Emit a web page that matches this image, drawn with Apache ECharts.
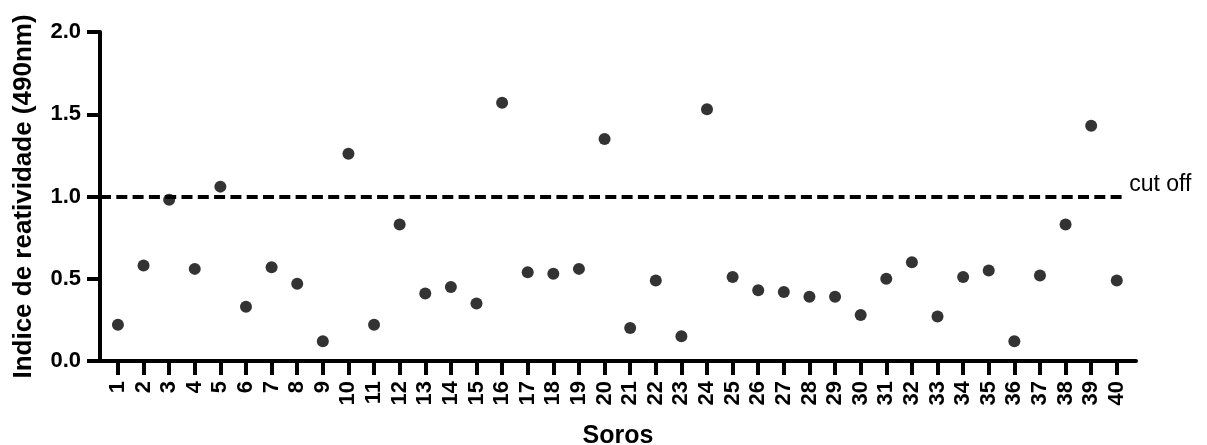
<!DOCTYPE html>
<html>
<head>
<meta charset="utf-8">
<script src="https://cdn.jsdelivr.net/npm/echarts@6/dist/echarts.min.js"></script>
<style>
  html, body { margin: 0; padding: 0; background: #fff; }
  #chart { width: 1207px; height: 445px; }
</style>
</head>
<body>
<div id="chart"></div>
<script>
const soros = [1, 2, 3, 4, 5, 6, 7, 8, 9, 10, 11, 12, 13, 14, 15, 16, 17, 18, 19, 20,
  21, 22, 23, 24, 25, 26, 27, 28, 29, 30, 31, 32, 33, 34, 35, 36, 37, 38, 39, 40];
const indice = [0.22, 0.58, 0.98, 0.56, 1.06, 0.33, 0.57, 0.47, 0.12, 1.26,
  0.22, 0.83, 0.41, 0.45, 0.35, 1.57, 0.54, 0.53, 0.56, 1.35,
  0.20, 0.49, 0.15, 1.53, 0.51, 0.43, 0.42, 0.39, 0.39, 0.28,
  0.50, 0.60, 0.27, 0.51, 0.55, 0.12, 0.52, 0.83, 1.43, 0.49];
const yTicks = [0, 0.5, 1.0, 1.5, 2.0];
const cutOff = 1.0;
const cutOffLabel = 'cut off';

const font = 'Liberation Sans, Arial, sans-serif';
const chart = echarts.init(document.getElementById('chart'), null, { renderer: 'canvas' });

const option = {
  animation: false,
  backgroundColor: '#fff',
  grid: { left: 100, right: 71, top: 32, bottom: 84, containLabel: false, outerBoundsMode: 'none' },
  xAxis: {
    type: 'value',
    min: 0.3,
    max: 40.75,
    name: 'Soros',
    nameLocation: 'middle',
    nameGap: 63,
    nameTextStyle: { fontFamily: font, fontWeight: 'bold', fontSize: 25, color: '#000' },
    axisLine: { lineStyle: { color: '#000', width: 4 } },
    axisTick: { customValues: soros, length: 14, lineStyle: { color: '#000', width: 4 } },
    axisLabel: {
      customValues: soros,
      rotate: 90,
      margin: 20,
      fontFamily: font,
      fontWeight: 'bold',
      fontSize: 22,
      color: '#000'
    },
    splitLine: { show: false }
  },
  yAxis: {
    type: 'value',
    min: yTicks[0],
    max: yTicks[yTicks.length - 1],
    interval: 0.5,
    name: 'Indice de reatividade (490nm)',
    nameLocation: 'middle',
    nameGap: 63,
    nameTextStyle: { fontFamily: font, fontWeight: 'bold', fontSize: 26, color: '#000' },
    axisLine: { show: true, lineStyle: { color: '#000', width: 4 } },
    axisTick: { show: true, length: 13, lineStyle: { color: '#000', width: 4 } },
    axisLabel: {
      margin: 19,
      fontFamily: font,
      fontWeight: 'bold',
      fontSize: 22,
      color: '#000',
      formatter: (v) => v.toFixed(1)
    },
    splitLine: { show: false }
  },
  series: [
    {
      type: 'scatter',
      symbol: 'circle',
      symbolSize: 12,
      itemStyle: { color: '#000' },
      data: soros.map((s, i) => [s, indice[i]]),
      markLine: {
        silent: true,
        symbol: 'none',
        lineStyle: { color: '#000', width: 4, type: [11, 5.3] },
        label: {
          show: true,
          position: 'end',
          distance: 6,
          formatter: cutOffLabel,
          fontFamily: font,
          fontSize: 23,
          color: '#000',
          verticalAlign: 'bottom'
        },
        data: [[{ coord: [0.3, cutOff] }, { coord: [40.25, cutOff] }]]
      }
    }
  ]
};
chart.setOption(option);
</script>
</body>
</html>
